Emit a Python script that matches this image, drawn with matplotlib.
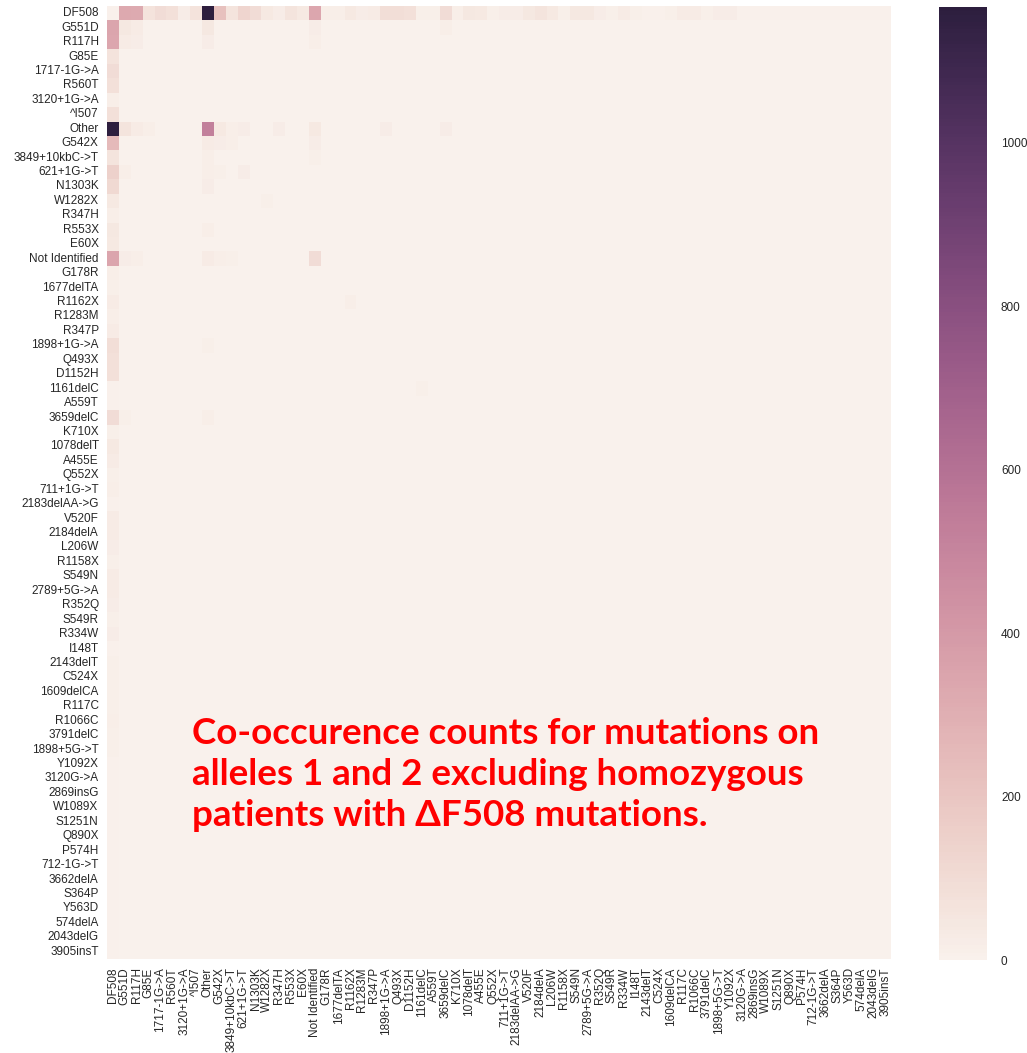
import numpy as np
import pandas as pd
import matplotlib
matplotlib.use("Agg")
import matplotlib.pyplot as plt
import seaborn as sns

# mutation names, same order on both axes
mutations = ["DF508", "G551D", "R117H", "G85E", "1717-1G->A", "R560T", "3120+1G->A", "^I507",
             "Other", "G542X", "3849+10kbC->T", "621+1G->T", "N1303K", "W1282X", "R347H", "R553X",
             "E60X", "Not Identified", "G178R", "1677delTA", "R1162X", "R1283M", "R347P",
             "1898+1G->A", "Q493X", "D1152H", "1161delC", "A559T", "3659delC", "K710X", "1078delT",
             "A455E", "Q552X", "711+1G->T", "2183delAA->G", "V520F", "2184delA", "L206W", "R1158X",
             "S549N", "2789+5G->A", "R352Q", "S549R", "R334W", "I148T", "2143delT", "C524X",
             "1609delCA", "R117C", "R1066C", "3791delC", "1898+5G->T", "Y1092X", "3120G->A",
             "2869insG", "W1089X", "S1251N", "Q890X", "P574H", "712-1G->T", "3662delA", "S364P",
             "Y563D", "574delA", "2043delG", "3905insT"]

# allele 1 = DF508, allele 2 = each mutation
df508_row = [5, 330, 320, 70, 100, 80, 20, 70, 1166, 220, 60, 130, 100, 40, 20, 60,
             40, 340, 15, 15, 40, 20, 30, 90, 90, 80, 10, 10, 100, 15, 50,
             40, 10, 25, 25, 50, 60, 40, 10, 50, 50, 25, 10, 30, 10, 5, 5,
             10, 30, 30, 10, 25, 25, 5, 5, 5, 5, 5, 5, 5, 5, 5,
             5, 5, 5, 5]

# allele 2 = DF508, allele 1 = each mutation
df508_col = [5, 350, 340, 70, 100, 80, 15, 80, 1160, 250, 60, 150, 110, 40, 15, 50,
             40, 350, 15, 10, 30, 15, 30, 90, 80, 80, 5, 5, 100, 10, 40,
             30, 10, 15, 5, 30, 30, 20, 10, 30, 30, 20, 10, 25, 5, 10, 10,
             10, 10, 15, 10, 10, 5, 5, 5, 5, 5, 5, 5, 5, 5, 5,
             5, 5, 5, 5]

# remaining non-zero pairs (allele 1, allele 2, count)
other_pairs = [
    ("G551D", "G551D", 50), ("G551D", "R117H", 30), ("G551D", "Other", 50),
    ("G551D", "Not Identified", 20), ("G551D", "3659delC", 15),
    ("R117H", "G551D", 30), ("R117H", "R117H", 20), ("R117H", "Other", 20),
    ("R117H", "Not Identified", 15),
    ("Other", "G551D", 60), ("Other", "R117H", 30), ("Other", "G85E", 15),
    ("Other", "Other", 520), ("Other", "G542X", 40), ("Other", "3849+10kbC->T", 15),
    ("Other", "621+1G->T", 20), ("Other", "R347H", 25), ("Other", "Not Identified", 40),
    ("Other", "1898+1G->A", 20), ("Other", "3659delC", 20),
    ("G542X", "Other", 30), ("G542X", "G542X", 20), ("G542X", "3849+10kbC->T", 15),
    ("G542X", "Not Identified", 20),
    ("3849+10kbC->T", "Other", 15), ("3849+10kbC->T", "Not Identified", 10),
    ("621+1G->T", "G551D", 15), ("621+1G->T", "Other", 15), ("621+1G->T", "G542X", 10),
    ("621+1G->T", "621+1G->T", 20),
    ("N1303K", "Other", 20), ("W1282X", "W1282X", 10), ("R553X", "Other", 15),
    ("Not Identified", "G551D", 20), ("Not Identified", "R117H", 15),
    ("Not Identified", "Other", 30), ("Not Identified", "G542X", 15),
    ("Not Identified", "3849+10kbC->T", 10), ("Not Identified", "Not Identified", 100),
    ("R1162X", "R1162X", 15), ("1898+1G->A", "Other", 10), ("1161delC", "1161delC", 10),
    ("3659delC", "G551D", 10), ("3659delC", "Other", 15),
]

counts = pd.DataFrame(0, index=mutations, columns=mutations, dtype=float)
counts.loc["DF508", :] = df508_row
counts.loc[:, "DF508"] = df508_col
for a1, a2, n in other_pairs:
    counts.loc[a1, a2] = n

sns.set_style("darkgrid")
plt.rcParams["font.family"] = ["Liberation Sans", "DejaVu Sans"]

fig = plt.figure(figsize=(10.27, 10.53), dpi=100)
ax = fig.add_axes([0.1042, 0.0893, 0.7634, 0.9050])
cax = fig.add_axes([0.9143, 0.0883, 0.0468, 0.9050])

cmap = sns.cubehelix_palette(light=.95, as_cmap=True)
sns.heatmap(counts, ax=ax, cbar_ax=cax, cmap=cmap, vmin=0,
            xticklabels=True, yticklabels=True)

ax.tick_params(axis="both", length=0, labelsize=8.5, colors="#262626", pad=6)
ax.set_xticklabels(mutations, rotation=90)
ax.set_yticklabels(mutations, rotation=0)
cax.tick_params(length=0, labelsize=8.5, colors="#262626", pad=10)
cax.set_yticks([0, 200, 400, 600, 800, 1000])

fig.text(0.187, 0.319,
         "Co-occurence counts for mutations on\n"
         "alleles 1 and 2 excluding homozygous\n"
         "patients with \u0394F508 mutations.",
         color="#FF0000", fontsize=26.5, fontweight="bold", va="top", ha="left",
         linespacing=1.3, family=["Lato", "DejaVu Sans"])

fig.savefig("out.png", dpi=100)
